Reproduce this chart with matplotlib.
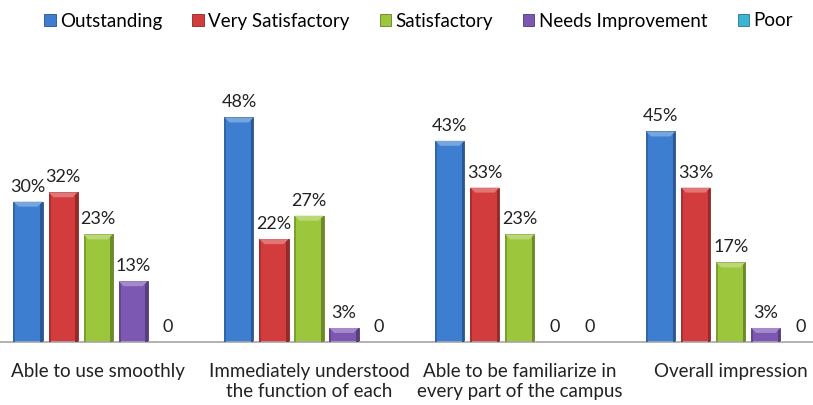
import numpy as np
import matplotlib
matplotlib.use("Agg")
import matplotlib.pyplot as plt
from matplotlib.patches import Polygon, Patch
import matplotlib.colors as mcolors

plt.rcParams["font.family"] = ["Lato", "DejaVu Sans"]

categories = ["Able to use smoothly",
              "Immediately understood\nthe function of each",
              "Able to be familiarize in\nevery part of the campus",
              "Overall impression"]
series = ["Outstanding", "Very Satisfactory", "Satisfactory", "Needs Improvement", "Poor"]
values = {
    "Outstanding":       [30, 48, 43, 45],
    "Very Satisfactory": [32, 22, 33, 33],
    "Satisfactory":      [23, 27, 23, 17],
    "Needs Improvement": [13, 3, 0, 3],
    "Poor":              [0, 0, 0, 0],
}
colors = ["#3D7ED0", "#D33C3C", "#9CC73C", "#7D58B3", "#3DB3D3"]


def shade(c, f):
    r, g, b = mcolors.to_rgb(c)
    if f > 0:
        return (r + (1 - r) * f, g + (1 - g) * f, b + (1 - b) * f)
    return (r * (1 + f), g * (1 + f), b * (1 + f))


fig = plt.figure(figsize=(8.13, 4.05), dpi=100)
ax = fig.add_axes([0, 1 - 342 / 405, 1, 262 / 405])

x = np.arange(len(categories))
pitch = 0.166
width = 0.138
ylim_top = 56
ax.set_xlim(-0.465, 3.39)
ax.set_ylim(0, ylim_top)

# px -> data conversions for bevel sizes
px_y = ylim_top / 262.0
px_x = (3.39 + 0.465) / 813.0

for i, (name, col) in enumerate(zip(series, colors)):
    vals = values[name]
    xs = x + (i - 2) * pitch
    ax.bar(xs, vals, width=width, color=col, edgecolor=shade(col, -0.35),
           linewidth=0.6, zorder=2)
    for xi, v in zip(xs, vals):
        if v > 0:
            # darker side strips
            ax.add_patch(Polygon([(xi - width / 2, 0), (xi - width / 2 + 2 * px_x, 0),
                                  (xi - width / 2 + 2 * px_x, v), (xi - width / 2, v)],
                                 closed=True, color=shade(col, -0.2), lw=0, zorder=3))
            ax.add_patch(Polygon([(xi + width / 2 - 2.5 * px_x, 0), (xi + width / 2, 0),
                                  (xi + width / 2, v), (xi + width / 2 - 2.5 * px_x, v)],
                                 closed=True, color=shade(col, -0.3), lw=0, zorder=3))
            # lighter bevelled top
            h = min(5 * px_y, v)
            ax.add_patch(Polygon([(xi - width / 2, v), (xi + width / 2, v),
                                  (xi + width / 2 - 5 * px_x, v - h),
                                  (xi - width / 2 + 5 * px_x, v - h)],
                                 closed=True, color=shade(col, 0.3), lw=0, zorder=3))
        label = f"{v}%" if v > 0 else "0"
        ax.text(xi, v + 7 * px_y, label, ha="center", va="bottom",
                fontsize=13, color="#222222", zorder=4)

for s in ["top", "right", "left"]:
    ax.spines[s].set_visible(False)
ax.spines["bottom"].set_color("#A6A6A6")
ax.spines["bottom"].set_linewidth(1.2)
ax.set_yticks([])
ax.set_xticks(x)
ax.set_xticklabels(categories, fontsize=13.5, color="#222222", linespacing=1.2)
ax.tick_params(axis="x", length=0, pad=15)
ax.patch.set_visible(False)

handles = [Patch(facecolor=c, edgecolor=shade(c, -0.35), linewidth=0.6) for c in colors]
fig.legend(handles, series, loc="center", bbox_to_anchor=(0.515, 1 - 21 / 405),
           ncol=5, frameon=False, fontsize=13.5, handlelength=0.6, handleheight=0.6,
           handletextpad=0.25, columnspacing=1.6)

fig.savefig("out.png", dpi=100)
